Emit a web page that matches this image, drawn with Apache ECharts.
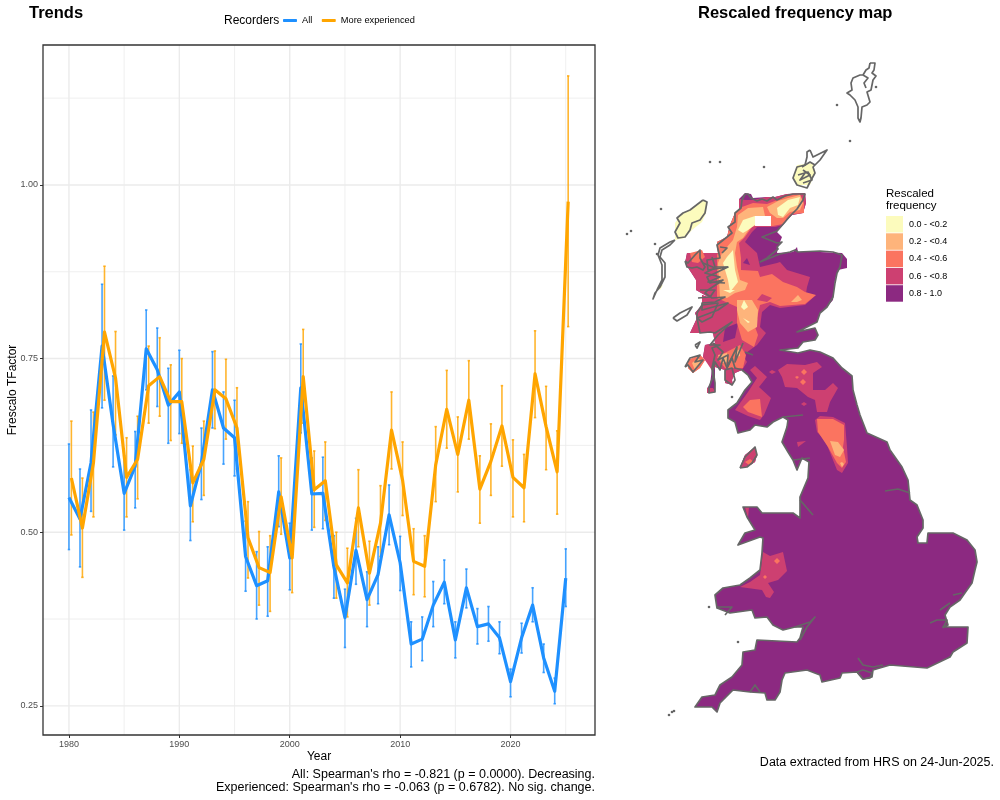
<!DOCTYPE html>
<html>
<head>
<meta charset="utf-8">
<title>Trends and rescaled frequency map</title>
<script src="https://cdn.jsdelivr.net/npm/echarts@6/dist/echarts.min.js"></script>
<style>
  html, body { margin: 0; padding: 0; background: #fff; }
  #chart { width: 1000px; height: 800px; }
</style>
</head>
<body>
<div id="chart"></div>
<script>
// trend data
var years = [1980,1981,1982,1983,1984,1985,1986,1987,1988,1989,1990,1991,1992,1993,1994,1995,1996,1997,1998,1999,2000,2001,2002,2003,2004,2005,2006,2007,2008,2009,2010,2011,2012,2013,2014,2015,2016,2017,2018,2019,2020,2021,2022,2023,2024,2025];
var allValue = [0.550,0.519,0.600,0.768,0.655,0.556,0.595,0.764,0.734,0.683,0.702,0.538,0.600,0.705,0.650,0.636,0.465,0.423,0.430,0.558,0.463,0.708,0.555,0.556,0.450,0.377,0.474,0.403,0.439,0.525,0.456,0.339,0.346,0.395,0.428,0.345,0.420,0.364,0.368,0.348,0.285,0.348,0.395,0.319,0.271,0.434];
var allLow = [0.475,0.450,0.530,0.679,0.594,0.503,0.535,0.705,0.681,0.628,0.642,0.488,0.547,0.650,0.598,0.581,0.415,0.375,0.379,0.508,0.417,0.643,0.503,0.505,0.405,0.334,0.425,0.364,0.397,0.482,0.416,0.306,0.315,0.364,0.397,0.319,0.391,0.339,0.343,0.325,0.263,0.326,0.371,0.298,0.253,0.393];
var allHigh = [0.627,0.591,0.676,0.857,0.725,0.610,0.645,0.820,0.794,0.736,0.762,0.590,0.650,0.760,0.702,0.690,0.516,0.472,0.479,0.610,0.513,0.771,0.607,0.608,0.495,0.418,0.520,0.443,0.479,0.568,0.494,0.371,0.378,0.429,0.460,0.371,0.447,0.390,0.393,0.371,0.303,0.369,0.420,0.339,0.290,0.476];
var expValue = [0.578,0.506,0.600,0.788,0.722,0.579,0.605,0.711,0.724,0.688,0.688,0.571,0.605,0.705,0.692,0.650,0.492,0.449,0.442,0.551,0.463,0.724,0.561,0.574,0.453,0.427,0.535,0.441,0.513,0.647,0.575,0.458,0.451,0.597,0.677,0.612,0.690,0.562,0.602,0.653,0.579,0.564,0.728,0.652,0.587,0.976];
var expLow = [0.496,0.435,0.522,0.690,0.640,0.522,0.548,0.657,0.667,0.632,0.628,0.515,0.553,0.649,0.634,0.591,0.434,0.395,0.386,0.497,0.413,0.657,0.507,0.517,0.405,0.378,0.479,0.395,0.465,0.591,0.524,0.410,0.407,0.544,0.621,0.558,0.634,0.513,0.553,0.595,0.522,0.515,0.665,0.590,0.526,0.796];
var expHigh = [0.660,0.578,0.673,0.883,0.789,0.636,0.667,0.768,0.780,0.741,0.750,0.624,0.660,0.761,0.749,0.708,0.544,0.501,0.495,0.607,0.513,0.792,0.617,0.630,0.500,0.477,0.590,0.487,0.567,0.702,0.630,0.505,0.495,0.652,0.733,0.666,0.747,0.610,0.656,0.711,0.633,0.612,0.790,0.710,0.646,1.157];

// axis ticks
var yearTicks = [1980,1990,2000,2010,2020];
var yearMinor = [1985,1995,2005,2015,2025];
var tfactorTicks = [0.25,0.50,0.75,1.00];
var tfactorMinor = [0.375,0.625,0.875,1.125];

// map legend
var bandLabels = ['0.0 - <0.2','0.2 - <0.4','0.4 - <0.6','0.6 - <0.8','0.8 - 1.0'];
var bandMids = [0.1,0.3,0.5,0.7,0.9];
var bandColors = ['#FCFBBD','#FEB47B','#FB7460','#CD4071','#8C2981'];

// map outlines, in map units (origin at the north west corner of the map)
var landNorthEast = [[119,149],[125,143],[131,144],[133,148],[147,147],[155,147],[167,144],[185,143],[186,153],[183,163],[172,165],[167,170],[163,175],[157,182],[162,187],[158,197],[157,203],[173,202],[177,197],[178,202],[200,202],[222,203],[227,209],[227,218],[218,220],[215,230],[213,250]];
var landSouth = [[207,257],[200,263],[197,272],[177,282],[195,278],[198,285],[195,290],[183,292],[178,298],[160,300],[178,303],[190,300],[200,302],[213,308],[222,318],[232,326],[233,340],[237,355],[240,365],[247,383],[267,392],[270,400],[282,417],[288,430],[290,450],[297,455],[303,470],[303,478],[297,487],[298,493],[307,493],[308,483],[333,483],[347,490],[355,500],[357,512],[355,520],[352,533],[347,540],[340,550],[330,557],[325,565],[328,575],[323,577],[348,577],[347,593],[333,602],[330,607],[307,618],[270,615],[253,620],[252,627],[243,629],[237,622],[222,623],[220,628],[202,632],[200,625],[187,620],[165,623],[162,630],[160,642],[155,650],[147,650],[145,643],[130,642],[113,640],[103,650],[100,653],[97,662],[92,657],[75,657],[82,647],[95,645],[100,635],[112,627],[122,615],[123,602],[135,600],[137,590],[177,592],[180,588],[183,577],[175,577],[163,580],[153,575],[147,567],[135,568],[132,560],[110,563],[97,558],[95,545],[103,538],[120,535],[130,528],[140,520],[142,503],[143,488],[140,487],[118,495],[125,483],[135,480],[127,467],[123,457],[137,457],[142,463],[173,463],[180,468],[180,447],[188,428],[189,412],[182,408],[177,420],[173,410],[168,402],[162,392],[167,377],[168,370],[163,367],[153,372],[147,377],[135,375],[130,380],[118,383],[115,372],[108,368],[108,360],[117,353],[125,340],[132,332],[128,325],[122,320]];
var landWest = [[115,323],[112,330],[113,335],[105,333],[105,320],[95,317],[95,342],[87,343],[87,338],[90,335],[92,318],[83,307],[85,295],[95,293],[93,283],[70,283],[77,268],[75,263],[82,255],[82,245],[90,248],[76,240],[76,230],[65,213],[67,203],[98,203],[97,192],[107,187],[110,175],[115,163],[119,160]];
var landIslay = [[68,310],[80,305],[85,310],[80,318],[73,323],[68,318]];
var landMan = [[120,417],[125,405],[135,397],[137,405],[135,412],[127,417]];
var landLewis = [[55,180],[55,173],[62,163],[70,160],[83,150],[87,152],[86,163],[82,172],[72,180],[65,188],[55,190]];
var landBenbecula = [[37,237],[43,235],[40,240]];
var landOrkney = [[177,115],[193,113],[195,123],[190,135],[177,135],[173,128]];
var noDataCell = [[135,166],[151,166],[151,176],[135,176]];

var pinkNorth = [[119,149],[125,150],[133,150],[147,147],[155,147],[167,144],[185,143],[186,153],[183,163],[172,165],[167,170],[163,175],[155,177],[137,177],[132,182],[125,192],[137,203],[140,217],[157,213],[160,212],[167,220],[190,227],[187,237],[185,250],[196,245],[185,255],[160,258],[150,255],[142,262],[140,277],[146,283],[137,295],[123,305],[127,312],[122,320],[115,323],[112,330],[113,335],[105,333],[105,320],[95,317],[93,322],[83,307],[85,295],[95,293],[93,283],[70,283],[77,268],[75,263],[82,255],[82,245],[90,248],[76,240],[76,230],[65,213],[67,203],[98,203],[97,192],[107,187],[110,175],[115,163],[119,160]];
var pinkKintyre = [[95,342],[87,343],[87,338],[93,338]];
var pinkUplands = [[158,320],[167,314],[185,315],[197,312],[202,317],[193,323],[193,340],[205,340],[213,333],[218,338],[210,352],[207,362],[197,362],[195,350],[188,347],[177,338],[165,337],[162,327]];
var pinkGalloway = [[135,316],[147,327],[139,337],[151,348],[144,365],[140,370],[128,366],[115,360],[128,342],[137,328],[130,320]];
var pinkPennines = [[195,370],[200,366],[213,367],[225,373],[227,397],[228,413],[222,423],[217,420],[205,390],[197,382]];
var pinkWales = [[143,502],[150,506],[163,502],[167,521],[158,530],[148,533],[154,542],[150,548],[146,547],[142,540],[120,537],[130,532],[140,525],[142,510]];
var pinkMan = [[120,417],[125,405],[135,397],[137,405],[135,412],[127,417]];
var pinkAnglesey = [[125,457],[129,457],[128,468]];
var pinkTweed = [[149,322],[152,320],[156,322],[152,324]];
var pinkDot = [[181,354],[184,352],[187,354],[184,356]];
var pinkPeak = [[177,392],[186,391],[178,397]];
var pinkSpot = [[137,250],[142,244],[152,248],[147,252]];
var purpleHole = [[123,213],[127,208],[130,215]];
var purpleArgyll = [[105,278],[118,273],[115,288],[103,292]];

var coralNorth = [[115,163],[122,157],[133,153],[147,154],[160,149],[167,146],[180,144],[184,153],[184,163],[173,164],[167,168],[163,174],[153,176],[135,176],[132,177],[125,187],[119,193],[121,208],[121,220],[138,221],[140,227],[152,224],[163,232],[177,237],[185,242],[196,245],[185,254],[160,256],[150,252],[140,255],[135,277],[138,285],[134,297],[122,290],[117,273],[117,257],[97,248],[97,205],[98,203],[97,192],[107,187],[110,175]];
var coralSkye = [[70,203],[82,200],[85,207],[78,213],[72,212]];
var coralArgyll = [[97,307],[120,295],[126,305],[123,318],[105,318],[100,312]];
var coralIslay = [[68,310],[80,305],[85,310],[80,318],[73,323],[68,318]];
var coralGalloway = [[123,357],[130,350],[140,349],[142,367],[128,362]];
var coralPennines = [[197,369],[213,369],[224,375],[224,390],[223,397],[226,412],[222,418],[217,413],[208,397],[198,382]];
var coralMan = [[125,412],[130,409],[134,412],[129,415]];
var coralDotA = [[184,319],[187,322],[184,325],[181,322]];
var coralDotB = [[177,326],[179,327],[177,329],[175,327]];
var coralDotC = [[183,329],[186,332],[183,335],[180,332]];
var coralDotD = [[157,508],[160,511],[157,514],[154,511]];
var coralDotE = [[145,525],[147,527],[145,529],[143,527]];

var peachNorth = [[147,157],[158,151],[168,148],[180,145],[183,153],[180,160],[170,162],[163,168],[157,168],[150,163]];
var peachWest = [[118,165],[128,158],[143,157],[145,166],[135,173],[130,178],[123,188],[117,192],[115,203],[117,217],[120,230],[128,233],[125,240],[115,243],[107,248],[100,247],[98,213],[102,203],[107,197],[113,190],[117,177]];
var peachColumn = [[117,250],[132,250],[138,260],[137,277],[128,282],[120,273],[117,260]];
var peachBlob = [[171,252],[178,245],[182,250],[177,252]];
var peachArgyllA = [[98,305],[107,303],[108,312],[102,313]];
var peachArgyllB = [[115,302],[120,299],[120,306],[116,307]];
var peachIslay = [[72,313],[78,308],[82,312],[75,320]];
var peachPennines = [[210,391],[218,392],[224,400],[220,407],[215,405]];
var peachPenninesLow = [[222,412],[224,414],[222,417],[220,413]];

var yellowNorth = [[157,158],[168,150],[180,147],[178,155],[170,158],[163,167],[158,165]];
var yellowWest = [[118,180],[123,170],[135,166],[135,175],[128,180],[123,183]];
var yellowGlen = [[107,207],[113,200],[115,220],[118,232],[110,242],[108,230],[103,213]];
var yellowSpotA = [[103,240],[115,240],[110,243]];
var yellowSpotB = [[124,250],[128,257],[124,260],[121,257]];
var yellowSpotC = [[123,268],[130,272],[128,273]];

var coastNorthEast = [[125,144],[128,144],[131,148],[137,151],[142,149],[147,151],[153,147],[157,150],[165,146],[173,144],[185,144],[183,150],[177,159],[170,166],[165,172],[157,181],[142,187],[157,193],[162,192],[157,197],[158,199],[147,208],[140,212],[160,204],[170,202],[175,200],[178,202],[200,201],[213,202],[222,205],[220,217],[217,223],[215,233],[213,247],[207,257]];
var coastWest = [[122,320],[115,318],[112,308],[107,318],[103,308],[100,320],[95,312],[93,320],[95,333],[95,342],[89,343],[89,337],[93,327],[92,318],[95,305],[92,298],[100,295],[90,295],[98,285],[112,272],[95,283],[90,282],[80,283],[77,268],[98,260],[108,253],[82,260],[82,253],[95,252],[105,247],[92,248],[85,243],[88,240],[103,230],[90,233],[87,227],[108,217],[88,220],[87,210],[100,208],[97,195],[107,187],[112,183],[108,177],[115,172],[115,163],[121,158],[122,150],[125,144]];
var coastLochA = [[83,213],[95,218],[85,223],[100,227],[88,232],[105,233]];
var coastLochB = [[92,207],[95,217],[108,217]];
var coastLochC = [[100,197],[107,198],[102,203]];
var coastLochD = [[80,240],[95,240],[90,247],[78,248]];
var coastClyde = [[93,293],[103,302],[98,310],[108,305],[107,317],[117,297],[115,312],[123,293]];
var coastClydeEast = [[125,302],[133,305]];
var coastSkye = [[65,211],[68,213],[75,205],[80,200],[80,208],[85,217],[83,220],[77,217],[72,218],[67,217],[65,211]];
var coastMull = [[77,263],[82,255],[98,253],[92,267],[82,272],[77,268],[77,263]];
var coastColl = [[53,268],[60,263],[72,257],[67,265],[57,271],[53,268]];
var coastIslay = [[65,317],[70,308],[80,305],[75,312],[83,310],[73,322],[68,315],[65,317]];
var coastColonsay = [[75,295],[80,292],[77,298],[75,295]];
var coastArran = [[105,320],[112,318],[115,330],[112,335],[105,330],[105,320]];
var coastMan = [[120,418],[125,407],[135,397],[137,405],[132,413],[127,417],[120,418]];
var coastLewis = [[83,150],[87,152],[85,163],[80,170],[72,173],[70,180],[65,187],[58,188],[55,182],[60,173],[57,168],[63,163],[70,160],[83,150]];
var coastUist = [[55,190],[50,195],[42,200],[40,207],[45,213],[45,227],[40,237],[35,243],[33,249],[37,240],[42,230],[42,215],[38,205],[40,198],[50,192],[55,190]];
var coastShetland = [[250,13],[255,13],[254,20],[252,23],[256,26],[253,30],[251,40],[247,42],[250,52],[247,55],[242,57],[241,68],[240,72],[238,68],[238,57],[235,50],[230,45],[227,43],[232,40],[231,33],[233,28],[240,25],[243,25],[246,20],[249,18],[250,13]];
var coastShetlandInner = [[243,25],[248,28],[244,33],[246,38]];
var coastOrkney = [[190,100],[193,107],[207,100],[200,110],[193,117],[195,123],[190,132],[187,138],[177,135],[173,128],[177,117],[185,115],[187,107],[187,102],[190,100]];
var coastOrkneyInner = [[183,120],[190,125],[180,130],[185,123]];
var coastOrkneyNorth = [[182,117],[190,112],[195,115]];
var coastOrkneySouth = [[178,125],[188,122],[192,130],[183,133]];
var coastHumber = [[265,441],[278,439],[290,443]];
var coastSolent = [[238,608],[243,615],[253,617],[263,615]];
var coastWight = [[237,622],[243,620],[252,623],[250,628],[243,629],[237,622]];
var coastThames = [[310,573],[317,570],[327,570],[323,578]];
var coastEssex = [[320,560],[330,553]];
var coastSuffolk = [[333,545],[342,543]];
var coastSevern = [[175,577],[190,572],[195,567],[187,577],[180,590]];
var coastMilford = [[97,557],[112,557],[105,565]];
var coastPlymouth = [[130,642],[135,635],[140,642]];
var coastDee = [[180,450],[193,465]];
var coastMersey = [[173,410],[190,408]];
var coastSolway = [[163,367],[183,365]];
var islets = [[230,91],[217,55],[256,37],[90,112],[100,112],[144,117],[41,159],[7,184],[11,181],[35,194],[37,204],[112,347],[89,557],[118,592],[49,665],[52,662],[54,661]];

// draw order: base land first, palest band last
var mapShapes = [
  { band: 0.9, points: landNorthEast.concat(landSouth, landWest) },
  { band: 0.5, points: landIslay },
  { band: 0.9, points: landMan },
  { band: 0.1, points: landLewis },
  { band: 0.1, points: landBenbecula },
  { band: 0.1, points: landOrkney },
  { band: 0.7, points: pinkNorth },
  { band: 0.7, points: pinkKintyre },
  { band: 0.7, points: pinkUplands },
  { band: 0.7, points: pinkGalloway },
  { band: 0.7, points: pinkPennines },
  { band: 0.7, points: pinkWales },
  { band: 0.7, points: pinkMan },
  { band: 0.7, points: pinkAnglesey },
  { band: 0.7, points: pinkTweed },
  { band: 0.7, points: pinkDot },
  { band: 0.7, points: pinkPeak },
  { band: 0.9, points: purpleHole },
  { band: 0.9, points: purpleArgyll },
  { band: 0.5, points: coralNorth },
  { band: 0.5, points: coralSkye },
  { band: 0.5, points: coralArgyll },
  { band: 0.5, points: coralIslay },
  { band: 0.5, points: coralGalloway },
  { band: 0.5, points: coralPennines },
  { band: 0.5, points: coralMan },
  { band: 0.5, points: coralDotA },
  { band: 0.5, points: coralDotB },
  { band: 0.5, points: coralDotC },
  { band: 0.5, points: coralDotD },
  { band: 0.5, points: coralDotE },
  { band: 0.7, points: pinkSpot },
  { band: 0.3, points: peachNorth },
  { band: 0.3, points: peachWest },
  { band: 0.3, points: peachColumn },
  { band: 0.3, points: peachBlob },
  { band: 0.3, points: peachArgyllA },
  { band: 0.3, points: peachArgyllB },
  { band: 0.3, points: peachIslay },
  { band: 0.3, points: peachPennines },
  { band: 0.3, points: peachPenninesLow },
  { band: 0.1, points: yellowNorth },
  { band: 0.1, points: yellowWest },
  { band: 0.1, points: yellowGlen },
  { band: 0.1, points: yellowSpotA },
  { band: 0.1, points: yellowSpotB },
  { band: 0.1, points: yellowSpotC },
  { band: -1, points: noDataCell }
];
var coastLines = [
  coastNorthEast.concat(landSouth), coastWest, coastLochA, coastLochB, coastLochC, coastLochD, coastClyde, coastClydeEast,
  coastSkye, coastMull, coastColl, coastIslay, coastColonsay,
  coastArran, coastMan, coastLewis, coastUist, coastShetland, coastShetlandInner, coastOrkney, coastOrkneyInner,
  coastOrkneyNorth, coastOrkneySouth, coastHumber,
  coastSolent, coastWight, coastThames, coastEssex, coastSuffolk, coastSevern, coastMilford, coastPlymouth,
  coastDee, coastMersey, coastSolway
];

var BLUE = '#1E90FF';
var ORANGE = '#FFA500';
var GRID_COLOR = '#EBEBEB';
var TICK_COLOR = '#4D4D4D';
var COAST_COLOR = '#666666';
var FONT = '"Liberation Sans", Arial, sans-serif';
var EXP_DODGE = 0.22;  // the two series are dodged a little along x
var X_MIN = 1977.65, X_MAX = 2027.65, Y_MIN = 0.208, Y_MAX = 1.2015;

function zipSeries(xs, ys, dx) {
  return xs.map(function (x, i) { return [x + dx, ys[i]]; });
}
function zipBars(xs, lows, highs, dx) {
  return xs.map(function (x, i) { return [x + dx, lows[i], highs[i]]; });
}

function errorBarItem(color) {
  return function (params, api) {
    var lo = api.coord([api.value(0), api.value(1)]);
    var hi = api.coord([api.value(0), api.value(2)]);
    var st = { stroke: color, lineWidth: 1.6, opacity: 0.82 };
    return {
      type: 'group',
      children: [
        { type: 'line', shape: { x1: lo[0], y1: lo[1], x2: hi[0], y2: hi[1] }, style: st },
        { type: 'line', shape: { x1: lo[0] - 1.2, y1: lo[1], x2: lo[0] + 1.2, y2: lo[1] }, style: st },
        { type: 'line', shape: { x1: hi[0] - 1.2, y1: hi[1], x2: hi[0] + 1.2, y2: hi[1] }, style: st }
      ]
    };
  };
}

function gridLineItem(params, api) {
  var v = api.value(0), vertical = api.value(1) === 1, major = api.value(2) === 1;
  var a = vertical ? api.coord([v, Y_MIN]) : api.coord([X_MIN, v]);
  var b = vertical ? api.coord([v, Y_MAX]) : api.coord([X_MAX, v]);
  return {
    type: 'line',
    shape: { x1: a[0], y1: a[1], x2: b[0], y2: b[1] },
    style: { stroke: GRID_COLOR, lineWidth: major ? 1.4 : 0.8 }
  };
}

function mapPolygonItem(params, api) {
  var shape = mapShapes[api.value(1)];
  return {
    type: 'polygon',
    shape: { points: shape.points.map(function (p) { return api.coord(p); }) },
    style: { fill: api.visual('color') }
  };
}

function coastItem(params, api) {
  var line = coastLines[api.value(0)];
  return {
    type: 'polyline',
    shape: { points: line.map(function (p) { return api.coord(p); }) },
    style: { fill: 'none', stroke: COAST_COLOR, lineWidth: 1.7, lineJoin: 'round' }
  };
}

function isletItem(params, api) {
  var c = api.coord([api.value(0), api.value(1)]);
  return { type: 'circle', shape: { cx: c[0], cy: c[1], r: 1.3 }, style: { fill: COAST_COLOR } };
}

var gridData = []
  .concat(yearMinor.map(function (v) { return [v, 1, 0]; }))
  .concat(tfactorMinor.map(function (v) { return [v, 0, 0]; }))
  .concat(yearTicks.map(function (v) { return [v, 1, 1]; }))
  .concat(tfactorTicks.map(function (v) { return [v, 0, 1]; }));

function plainText(text, pos, style) {
  return Object.assign({ text: text, padding: 0, textStyle: Object.assign({ fontFamily: FONT, fontSize: 12.5, fontWeight: 'normal', color: '#000' }, style) }, pos);
}

var chart = echarts.init(document.getElementById('chart'));
chart.setOption({
  animation: false,
  backgroundColor: '#fff',
  textStyle: { fontFamily: FONT },
  title: [
    plainText('Trends', { left: 29, top: 5 }, { fontSize: 16.5, fontWeight: 'bold' }),
    plainText('Rescaled frequency map', { left: 698, top: 5 }, { fontSize: 16.5, fontWeight: 'bold' }),
    plainText('Recorders', { left: 224, top: 15 }, { fontSize: 12 }),
    plainText("All: Spearman's rho = -0.821 (p = 0.0000). Decreasing.", { right: 405, top: 768 }, {}),
    plainText("Experienced: Spearman's rho = -0.063 (p = 0.6782). No sig. change.", { right: 405, top: 781 }, {}),
    plainText('Data extracted from HRS on 24-Jun-2025.', { right: 6, top: 756 }, {}),
    plainText('Rescaled', { left: 886, top: 188 }, { fontSize: 11.5 }),
    plainText('frequency', { left: 886, top: 200 }, { fontSize: 11.5 })
  ],
  legend: {
    left: 283, top: 16, padding: 0, itemWidth: 14, itemHeight: 3, itemGap: 9.5,
    data: [{ name: 'All', icon: 'roundRect' }, { name: 'More experienced', icon: 'roundRect' }],
    textStyle: { fontSize: 9.25, color: '#000' }
  },
  visualMap: {
    type: 'piecewise',
    seriesIndex: 7,
    dimension: 0,
    left: 886, top: 216,
    padding: 0,
    align: 'left',
    itemWidth: 17, itemHeight: 16.5, itemGap: 0.8, itemSymbol: 'rect',
    inverse: true,
    hoverLink: false,
    selectedMode: false,
    textGap: 6,
    textStyle: { fontSize: 9, color: '#000' },
    pieces: bandLabels.map(function (label, i) {
      return { min: bandMids[i] - 0.1, max: bandMids[i] + 0.1, label: label, color: bandColors[i] };
    }),
    outOfRange: { color: '#fff' }
  },
  grid: [
    { left: 43, top: 45, width: 552, height: 690, outerBoundsMode: 'none', show: true, z: 10, borderColor: '#333', borderWidth: 1.3 },
    { left: 620, top: 50, width: 380, height: 700, outerBoundsMode: 'none' }
  ],
  xAxis: [
    {
      type: 'value', gridIndex: 0, min: X_MIN, max: X_MAX,
      name: 'Year', nameLocation: 'middle', nameGap: 16, nameMoveOverlap: false,
      nameTextStyle: { fontSize: 12, color: '#000' },
      splitLine: { show: false },
      axisLine: { show: false },
      axisTick: { show: true, length: 3, customValues: yearTicks, lineStyle: { color: '#333' } },
      axisLabel: { customValues: yearTicks, fontSize: 9, color: TICK_COLOR, margin: 5, formatter: function (v) { return String(v); } }
    },
    { type: 'value', gridIndex: 1, min: 0, max: 380, show: false }
  ],
  yAxis: [
    {
      type: 'value', gridIndex: 0, min: Y_MIN, max: Y_MAX,
      name: 'Frescalo TFactor', nameLocation: 'middle', nameGap: 24, nameMoveOverlap: false,
      nameTextStyle: { fontSize: 12, color: '#000' },
      splitLine: { show: false },
      axisLine: { show: false },
      axisTick: { show: true, length: 3, customValues: tfactorTicks, lineStyle: { color: '#333' } },
      axisLabel: { customValues: tfactorTicks, fontSize: 9, color: TICK_COLOR, margin: 5, formatter: function (v) { return v.toFixed(2); } }
    },
    { type: 'value', gridIndex: 1, min: 0, max: 700, inverse: true, show: false }
  ],
  series: [
    {
      name: 'gridlines', type: 'custom', xAxisIndex: 0, yAxisIndex: 0, silent: true, z: 1,
      renderItem: gridLineItem, data: gridData, encode: { x: 0 }
    },
    {
      name: 'All bars', type: 'custom', xAxisIndex: 0, yAxisIndex: 0, silent: true, z: 2,
      renderItem: errorBarItem(BLUE), data: zipBars(years, allLow, allHigh, 0), encode: { x: 0, y: [1, 2] }
    },
    {
      name: 'Experienced bars', type: 'custom', xAxisIndex: 0, yAxisIndex: 0, silent: true, z: 2,
      renderItem: errorBarItem(ORANGE), data: zipBars(years, expLow, expHigh, EXP_DODGE), encode: { x: 0, y: [1, 2] }
    },
    {
      name: 'All', type: 'line', xAxisIndex: 0, yAxisIndex: 0, z: 3, symbol: 'none',
      color: BLUE, lineStyle: { width: 3.2, color: BLUE, join: 'round' },
      data: zipSeries(years, allValue, 0)
    },
    {
      name: 'More experienced', type: 'line', xAxisIndex: 0, yAxisIndex: 0, z: 4, symbol: 'none',
      color: ORANGE, lineStyle: { width: 3.2, color: ORANGE, join: 'round' },
      data: zipSeries(years, expValue, EXP_DODGE)
    },
    { name: 'coast', type: 'custom', xAxisIndex: 1, yAxisIndex: 1, silent: true, z: 6, renderItem: coastItem, data: coastLines.map(function (l, i) { return [i]; }), encode: { x: 0 } },
    { name: 'islets', type: 'custom', xAxisIndex: 1, yAxisIndex: 1, silent: true, z: 6, renderItem: isletItem, data: islets },
    { name: 'frequency', type: 'custom', xAxisIndex: 1, yAxisIndex: 1, silent: true, z: 5, renderItem: mapPolygonItem, data: mapShapes.map(function (s, i) { return [s.band, i]; }), encode: { x: 1 } }
  ]
});
</script>
</body>
</html>
